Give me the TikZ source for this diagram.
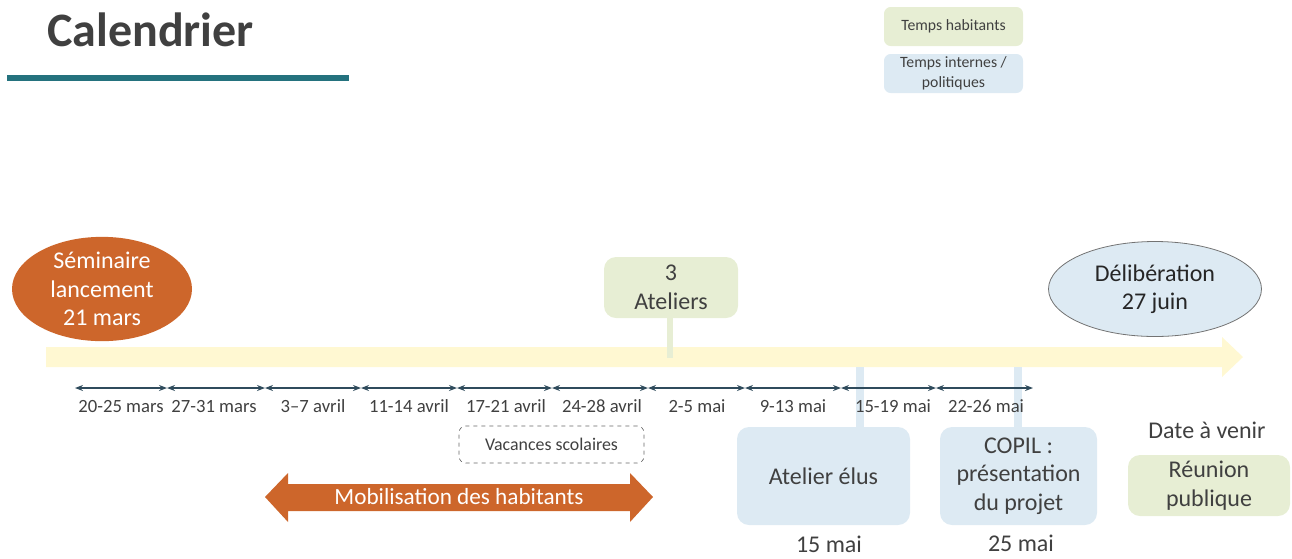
\documentclass[tikz,border=0pt]{standalone}
\usepackage{fontspec}
\setmainfont{Carlito}
\usetikzlibrary{shapes.geometric,arrows.meta}
\definecolor{txt}{HTML}{404040}
\definecolor{teal}{HTML}{24727E}
\definecolor{orng}{HTML}{CD662B}
\definecolor{lgreen}{HTML}{E7EED4}
\definecolor{lblue}{HTML}{DDEAF3}
\definecolor{pyellow}{HTML}{FFF8D2}
\definecolor{slate}{HTML}{2F4B5C}
\tikzset{
  big/.style={font=\fontsize{18}{21.4}\selectfont},
  lab/.style={font=\fontsize{14}{16}\selectfont, text=txt, anchor=base, inner sep=0pt},
  greenbox/.style={fill=lgreen, draw=none, rounded corners=9pt, align=center, text=txt, inner sep=0pt},
  bluebox/.style={fill=lblue, draw=none, rounded corners=9pt, align=center, text=txt, inner sep=0pt},
  legbox/.style={rounded corners=5pt, align=center, text=txt, inner sep=0pt,
     minimum width=104.25pt, minimum height=29.25pt, font=\fontsize{11.8}{15}\selectfont},
  interval/.style={{Stealth[length=6pt,width=4.5pt]}-{Stealth[length=6pt,width=4.5pt]}, draw=slate, line width=0.9pt},
}
\begin{document}
\begin{tikzpicture}[x=0.75pt,y=-0.75pt]
\useasboundingbox (0,0) rectangle (1292,558);
% title
\node[anchor=base west, inner sep=0pt, text=txt, font=\fontsize{36}{40}\selectfont\bfseries] (title) at (47,46) {Calendrier};
\draw[teal, line width=4.5pt] (7,77.5) -- (349,77.5);
% legend
\node[legbox, fill=lgreen] (leg1) at (953.5,26.5) {Temps habitants};
\node[legbox, fill=lblue] (leg2) at (953.5,73.5) {Temps internes /\\politiques};
% timeline arrow
\fill[pyellow] (46,347) -- (1222,347) -- (1222,337) -- (1243,357) -- (1222,377) -- (1222,367) -- (46,367) -- cycle;
% connectors bars
\node[greenbox, big, minimum width=100.5pt, minimum height=45.75pt] (ateliers) at (671,287.5) {3\\Ateliers};
\coordinate (atl) at (670,358);
\draw[lgreen, line width=5pt] (ateliers.south -| atl) -- (atl);
\node[bluebox, big, minimum width=129.75pt, minimum height=73.5pt] (elus) at (823.5,476) {Atelier élus};
\node[bluebox, big, minimum width=117.75pt, minimum height=73.5pt] (copil) at (1018.5,476) {COPIL :\\présentation\\du projet};
\coordinate (elt) at (860,367);
\coordinate (cot) at (1018,367);
\draw[lblue, line width=6pt] (elt) -- (elt |- elus.north);
\draw[lblue, line width=6pt] (cot) -- (cot |- copil.north);
% ellipses
\node[ellipse, fill=orng, text=white, big, align=center, inner sep=0pt, minimum width=135pt, minimum height=69pt] (sem) at (102,289) {Séminaire\\lancement\\21 mars};
\node[ellipse, fill=lblue, draw=black!55, line width=0.6pt, text=black!85, big, align=center, inner sep=0pt, minimum width=159.75pt, minimum height=71.25pt] (delib) at (1155,289) {Délibération\\27 juin};
% intervals
\foreach \n/\x in {t0/75,t1/167,t2/265,t3/361,t4/457,t5/552,t6/648,t7/745,t8/841,t9/936,t10/1033}
  \coordinate (\n) at (\x,388);
\foreach \a/\b in {t0/t1,t1/t2,t2/t3,t3/t4,t4/t5,t5/t6,t6/t7,t7/t8,t8/t9,t9/t10}
  \draw[interval] (\a) -- (\b);
\node[lab] (l1) at (121,412) {20-25 mars};
\node[lab] (l2) at (214,412) {27-31 mars};
\node[lab] (l3) at (313,412) {3–7 avril};
\node[lab] (l4) at (409,412) {11-14 avril};
\node[lab] (l5) at (506,412) {17-21 avril};
\node[lab] (l6) at (602,412) {24-28 avril};
\node[lab] (l7) at (697,412) {2-5 mai};
\node[lab] (l8) at (793,412) {9-13 mai};
\node[lab] (l9) at (893,412) {15-19 mai};
\node[lab] (l10) at (986,412) {22-26 mai};
% vacances
\node[draw=txt!80, dashed, rounded corners=5pt, line width=0.5pt, minimum width=138.75pt, minimum height=27.75pt, text=txt, font=\fontsize{13.4}{15}\selectfont, inner sep=0pt] (vac) at (551.5,444.5) {Vacances scolaires};
% mobilisation arrow
\fill[orng] (265,497) -- (288,473) -- (288,484) -- (630,484) -- (630,473) -- (653,497) -- (630,522) -- (630,511) -- (288,511) -- (288,522) -- cycle;
\node[text=white, font=\fontsize{17.4}{20}\selectfont, inner sep=0pt] (mob) at (459,497) {Mobilisation des habitants};
% dates
\node[lab, big, text=txt] (d15) at (829,552) {15 mai};
\node[lab, big, text=txt] (d25) at (1021,551) {25 mai};
\node[lab, big, text=txt] (venir) at (1207,438) {Date à venir};
\node[greenbox, big, minimum width=121.5pt, minimum height=45.75pt] (reunion) at (1209,485.5) {Réunion\\publique};
\end{tikzpicture}
\end{document}
